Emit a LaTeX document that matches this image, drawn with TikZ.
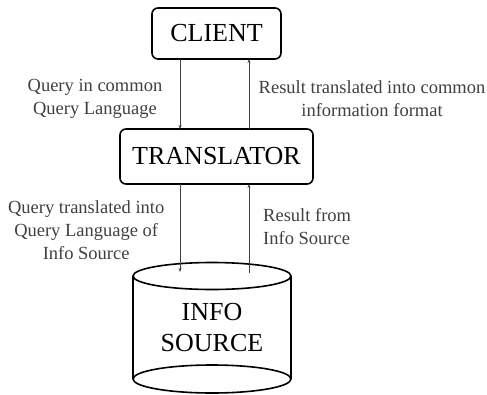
\documentclass[tikz,border=0pt]{standalone}
\usepackage{fontspec}
\setmainfont{Liberation Serif}
\usepackage{tikz}
\usetikzlibrary{positioning,arrows.meta}
\tikzset{
  line/.style={-{Stealth[length=4pt,width=3pt]}, line width=0.8pt, black!75},
  box/.style={draw, rounded corners=6pt, line width=1.6pt, align=center, outer sep=0pt,
    font=\fontsize{26}{30}\selectfont},
  clientbox/.style={box, minimum width=129pt, minimum height=51pt},
  transbox/.style={box, minimum width=193pt, minimum height=55pt},
  srcbody/.style={align=center, outer sep=0pt, minimum width=158pt, minimum height=103pt,
    font=\fontsize{26}{31}\selectfont},
  lbl/.style={align=center, font=\fontsize{18.5}{23}\selectfont}
}

\begin{document}
\begin{tikzpicture}[node distance=70pt]
  \useasboundingbox (0,0) rectangle (487pt,-394pt);
  \node[clientbox] (client) at (216.5pt,-33.5pt) {CLIENT};
  \node[transbox, below=of client] (trans) {TRANSLATOR};
  \node[srcbody, below=92pt of trans, xshift=-4.5pt] (src) {INFO\\SOURCE};

  % cylinder of the info source
  \draw[line width=1.6pt] (src.north) ellipse [x radius=79pt, y radius=13.5pt];
  \draw[line width=1.6pt] (src.south) ellipse [x radius=79pt, y radius=14pt];
  \draw[line width=1.6pt] (src.north west) -- (src.south west);
  \draw[line width=1.6pt] (src.north east) -- (src.south east);

  \draw[line] ([xshift=-36.5pt]client.south) -- node[lbl, left=14pt, yshift=-4.5pt] {Query in common\\Query Language} ([xshift=-36.5pt]trans.north);
  \draw[line] ([xshift=32.5pt]trans.north) -- node[lbl, right=6pt, yshift=-4.5pt] {Result translated into common\\information format} ([xshift=32.5pt]client.south);
  \draw[line] ([xshift=-36.5pt]trans.south) -- node[lbl, left=12pt, yshift=-2pt] {Query translated into\\Query Language of\\Info Source} ([xshift=-36.5pt,yshift=4pt]trans.south |- src.north);
  \draw[line] ([xshift=32.5pt,yshift=3pt]trans.south |- src.north) -- node[lbl, align=left, right=10.5pt, yshift=2pt] {Result from\\Info Source} ([xshift=32.5pt]trans.south);
\end{tikzpicture}
\end{document}
